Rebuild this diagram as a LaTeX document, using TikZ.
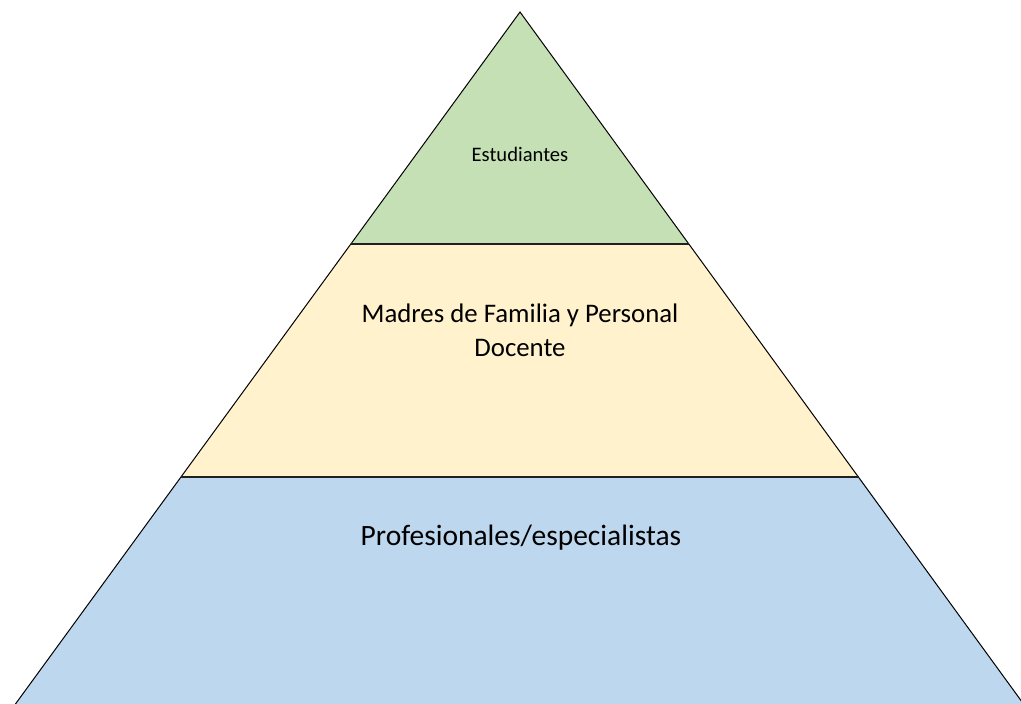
\documentclass[tikz,border=0pt]{standalone}
\usepackage{fontspec}
\setmainfont{Carlito}
\definecolor{tierGreen}{HTML}{C5E0B4}
\definecolor{tierYellow}{HTML}{FFF2CC}
\definecolor{tierBlue}{HTML}{BDD7EE}
\tikzset{
  edge/.style={black,line width=1},
  divider/.style={gray!25!black,line width=2.2},
}

\begin{document}
\begin{tikzpicture}[x=1pt,y=-1pt]

\useasboundingbox (0,0) rectangle (1021,704);
\clip (0,0) rectangle (1021,704);

\coordinate (T) at (520,12);
\coordinate (L1) at (351,244);
\coordinate (R1) at (689,244);
\coordinate (L2) at (181,477);
\coordinate (R2) at (859,477);
\coordinate (L3) at (14,706);
\coordinate (R3) at (1025,706);

\fill[tierGreen] (T)--(R1)--(L1)--cycle;
\fill[tierYellow] (L1)--(R1)--(R2)--(L2)--cycle;
\fill[tierBlue] (L2)--(R2)--(R3)--(L3)--cycle;

\draw[edge] (L3)--(T)--(R3);
\draw[divider] (L1)--(R1);
\draw[divider] (L2)--(R2);

\node[font=\fontsize{20.6}{24}\selectfont] (top) at (520,154) {Estudiantes};
\node[align=center,font=\fontsize{26.8}{34}\selectfont] (mid) at (520,330) {Madres de Familia y Personal\\Docente};
\node[anchor=base,font=\fontsize{29.5}{34}\selectfont] (base) at (521,545) {Profesionales/especialistas};

\end{tikzpicture}
\end{document}
